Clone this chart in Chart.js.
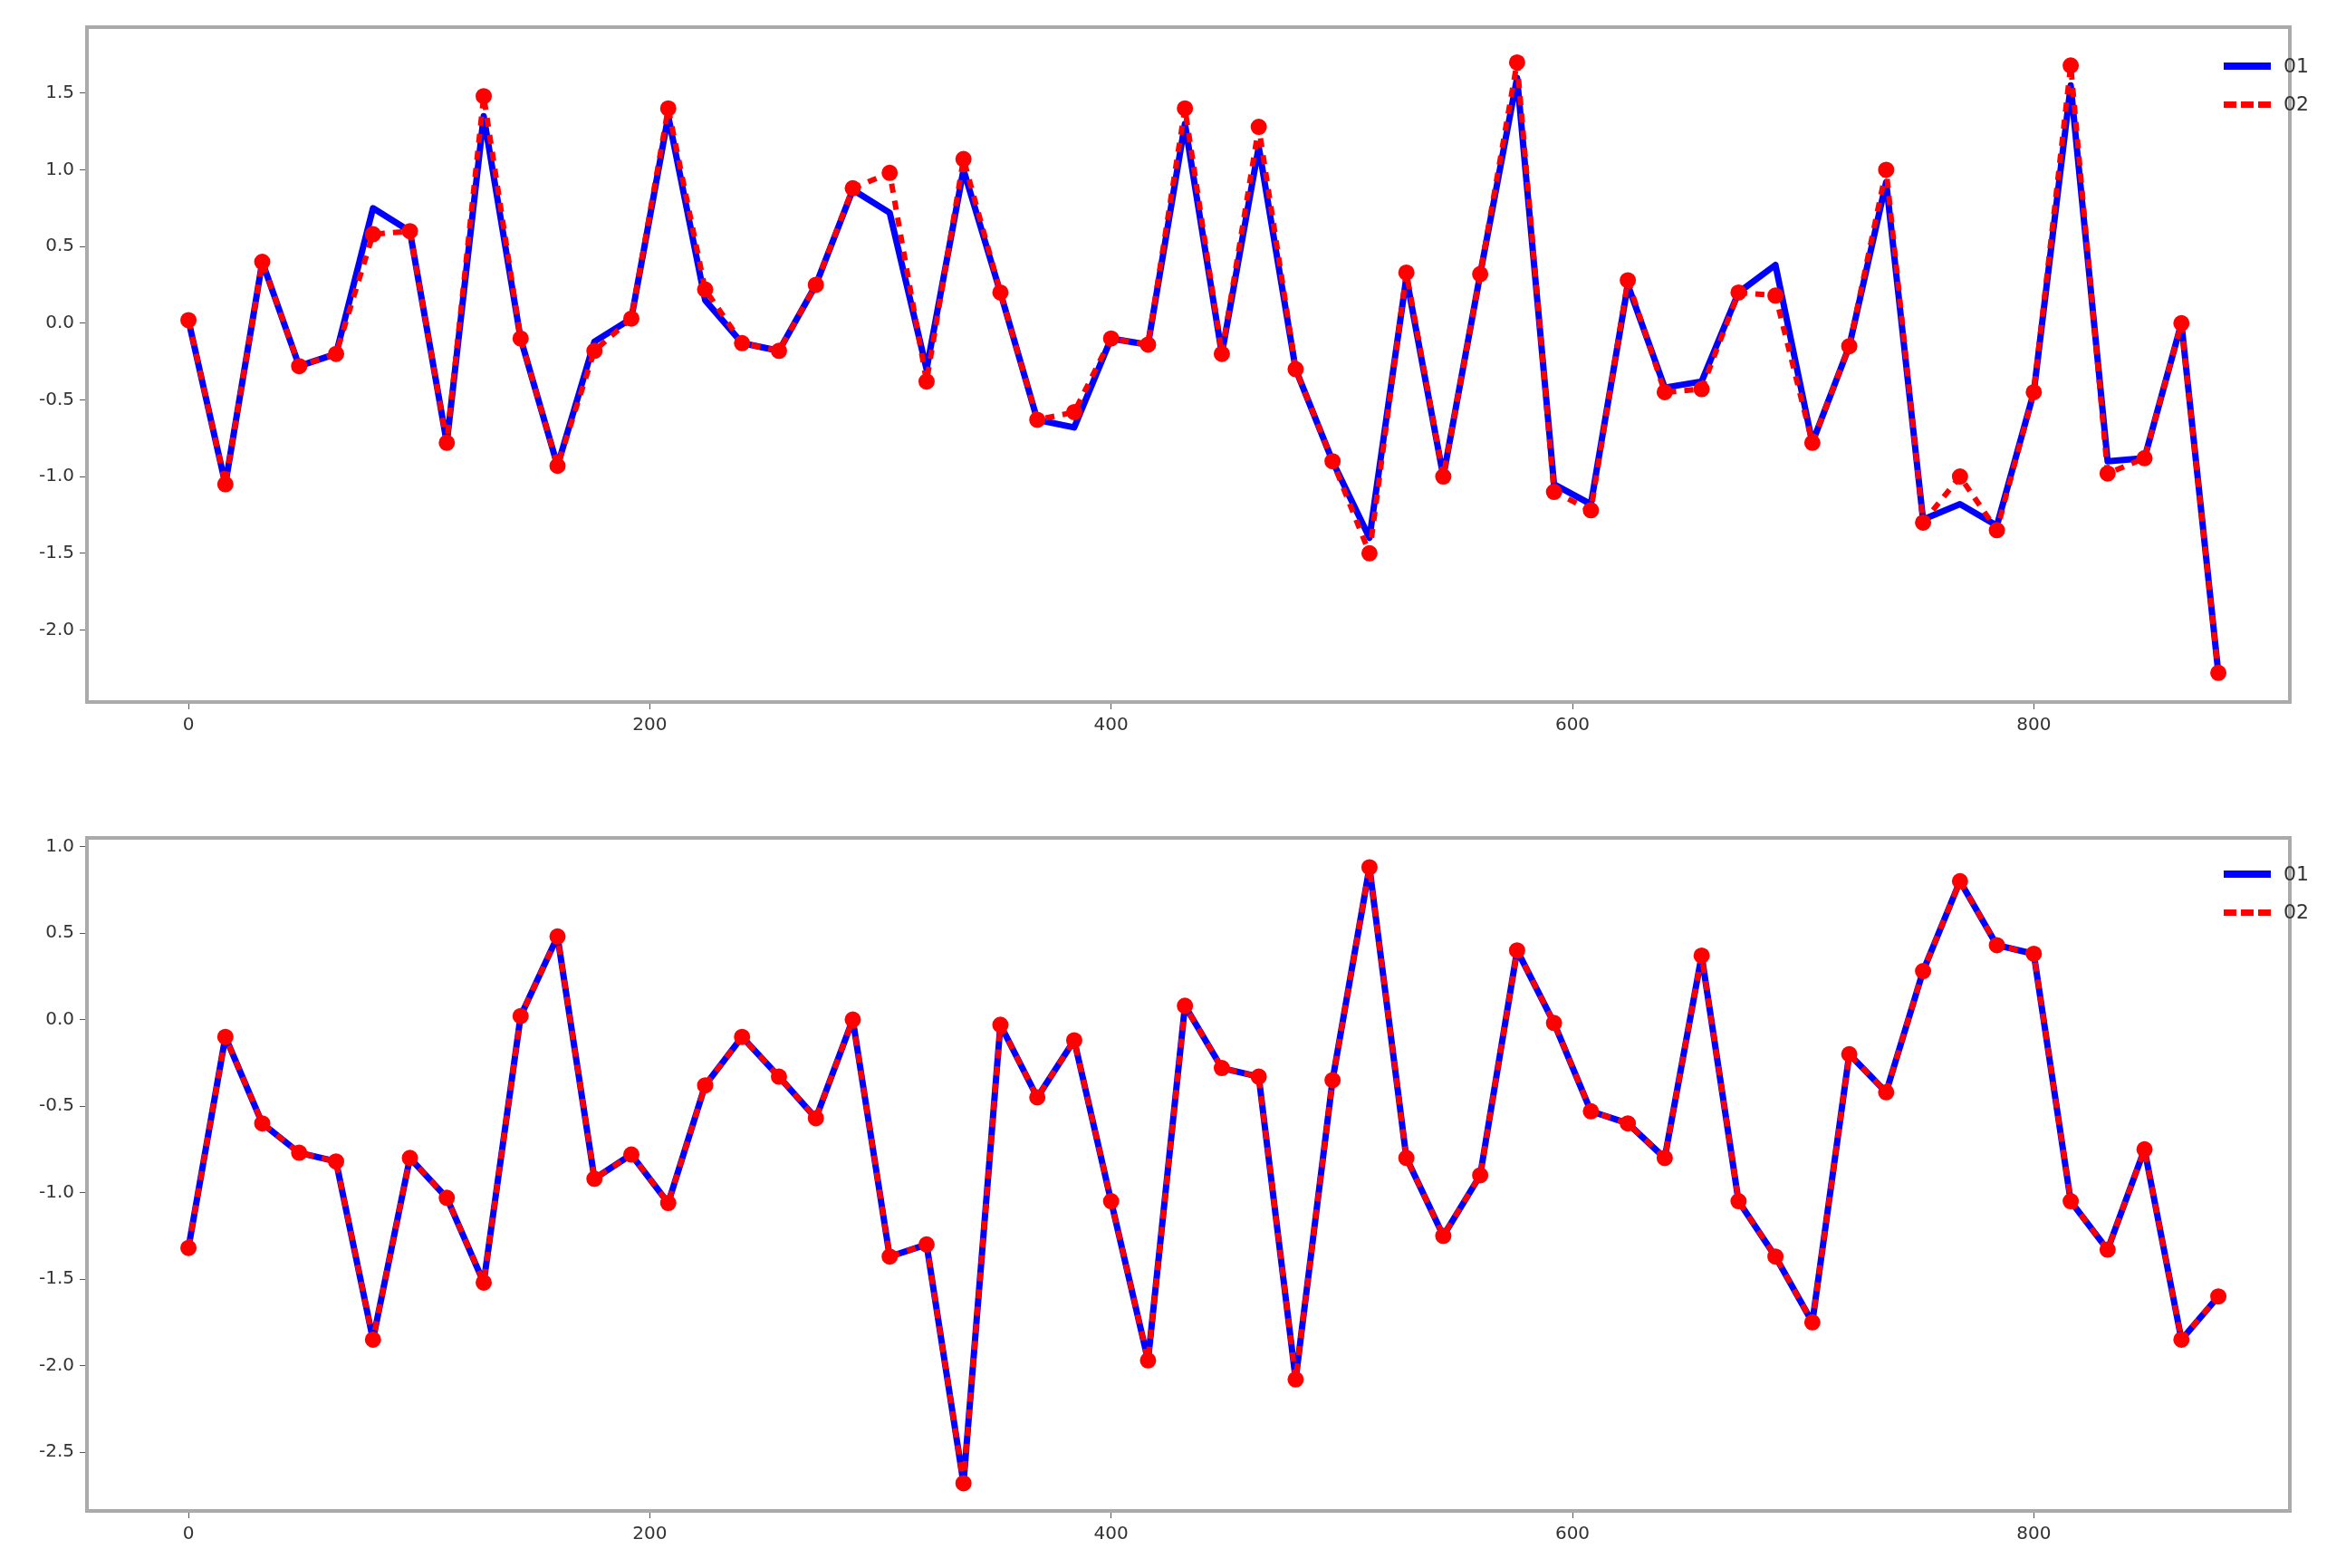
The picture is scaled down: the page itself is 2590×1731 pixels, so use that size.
<!DOCTYPE html>
<html><head><meta charset="utf-8">
<script src="https://cdn.jsdelivr.net/npm/chart.js@4"></script>
<style>
body{margin:0;background:#fff;width:2590px;height:1731px;overflow:hidden;position:relative;font-family:"DejaVu Sans",sans-serif}
.wrap{position:absolute;left:0;width:2590px}
.leg{position:absolute;font-size:22px;color:#333;line-height:42px}
.leg div{display:flex;align-items:center}
.leg span.l{display:inline-block;width:52px;height:8px;margin-right:14px;position:relative}
</style></head><body>
<div class="wrap" style="top:0;height:850px"><canvas id="c1"></canvas></div>
<div class="wrap" style="top:850px;height:881px"><canvas id="c2"></canvas></div>
<div class="leg" style="left:2455px;top:52px">
<div><span class="l" style="background:#0000ff"></span>01</div>
<div><span class="l" style="border-top:7px dashed #ff0000;height:0"></span>02</div></div>
<div class="leg" style="left:2455px;top:944px">
<div><span class="l" style="background:#0000ff"></span>01</div>
<div><span class="l" style="border-top:7px dashed #ff0000;height:0"></span>02</div></div>
<script>
const xVals=[0,16,32,48,64,80,96,112,128,144,160,176,192,208,224,240,256,272,288,304,320,336,352,368,384,400,416,432,448,464,480,496,512,528,544,560,576,592,608,624,640,656,672,688,704,720,736,752,768,784,800,816,832,848,864,880];
const top01=[0.02,-1.05,0.4,-0.28,-0.2,0.75,0.6,-0.78,1.35,-0.1,-0.93,-0.12,0.03,1.35,0.15,-0.13,-0.18,0.25,0.87,0.72,-0.3,1.0,0.2,-0.63,-0.68,-0.1,-0.14,1.3,-0.2,1.15,-0.3,-0.9,-1.4,0.3,-1.0,0.32,1.6,-1.05,-1.18,0.25,-0.42,-0.38,0.2,0.38,-0.78,-0.15,0.92,-1.28,-1.18,-1.32,-0.45,1.55,-0.9,-0.88,0.0,-2.28];
const top02=[0.02,-1.05,0.4,-0.28,-0.2,0.58,0.6,-0.78,1.48,-0.1,-0.93,-0.18,0.03,1.4,0.22,-0.13,-0.18,0.25,0.88,0.98,-0.38,1.07,0.2,-0.63,-0.58,-0.1,-0.14,1.4,-0.2,1.28,-0.3,-0.9,-1.5,0.33,-1.0,0.32,1.7,-1.1,-1.22,0.28,-0.45,-0.43,0.2,0.18,-0.78,-0.15,1.0,-1.3,-1.0,-1.35,-0.45,1.68,-0.98,-0.88,0.0,-2.28];
const bot02=[-1.32,-0.1,-0.6,-0.77,-0.82,-1.85,-0.8,-1.03,-1.52,0.02,0.48,-0.92,-0.78,-1.06,-0.38,-0.1,-0.33,-0.57,0.0,-1.37,-1.3,-2.68,-0.03,-0.45,-0.12,-1.05,-1.97,0.08,-0.28,-0.33,-2.08,-0.35,0.88,-0.8,-1.25,-0.9,0.4,-0.02,-0.53,-0.6,-0.8,0.37,-1.05,-1.37,-1.75,-0.2,-0.42,0.28,0.8,0.43,0.38,-1.05,-1.33,-0.75,-1.85,-1.6];
const bot01=bot02.slice();
const xTicks=[0,200,400,600,800];

function pts(a){return a.map((v,i)=>({x:xVals[i],y:v}));}
function make(id,s1,s2,ymin,ymax,padTop,xH){
  new Chart(document.getElementById(id),{
    type:'line',
    data:{datasets:[
      {label:'02',data:pts(s2),borderColor:'#ff0000',borderWidth:6,borderDash:[10,9],borderJoinStyle:'round',pointRadius:6,pointBackgroundColor:'#ff0000',pointBorderColor:'#ff0000',tension:0},
      {label:'01',data:pts(s1),borderColor:'#0000ff',borderWidth:7,borderJoinStyle:'round',pointRadius:0,tension:0}
    ]},
    options:{responsive:true,maintainAspectRatio:false,animation:false,
      layout:{padding:{top:padTop,right:62,left:0,bottom:0}},
      plugins:{legend:{display:false},tooltip:{enabled:false}},
      scales:{
        x:{type:'linear',min:-44,max:911,
          afterBuildTicks:s=>{s.ticks=xTicks.map(v=>({value:v}));},
          afterFit:s=>{s.height=xH;},
          border:{color:'#aaaaaa',width:4},
          grid:{drawOnChartArea:false,tickLength:8,color:'#555'},
          ticks:{color:'#333',font:{size:20,family:'DejaVu Sans'},padding:6,maxRotation:0,callback:v=>String(v)}},
        y:{min:ymin,max:ymax,
          afterBuildTicks:s=>{const t=[];for(let v=Math.ceil(ymin*2)/2;v<=ymax;v+=0.5)t.push({value:v});s.ticks=t;},
          afterFit:s=>{s.width=96;},
          border:{color:'#aaaaaa',width:4},
          grid:{drawOnChartArea:false,tickLength:8,color:'#555'},
          ticks:{color:'#333',font:{size:20,family:'DejaVu Sans'},padding:6,callback:v=>v.toFixed(1)}}
      }},
    plugins:[{id:'frame',afterDraw(c){const a=c.chartArea,x=c.ctx;x.save();x.strokeStyle='#aaaaaa';x.lineWidth=4;x.strokeRect(a.left,a.top,a.right-a.left,a.bottom-a.top);x.restore();}}]
  });
}
make('c1',top01,top02,-2.47,1.93,30,75);
make('c2',bot01,bot02,-2.84,1.05,75,63);
</script></body></html>
